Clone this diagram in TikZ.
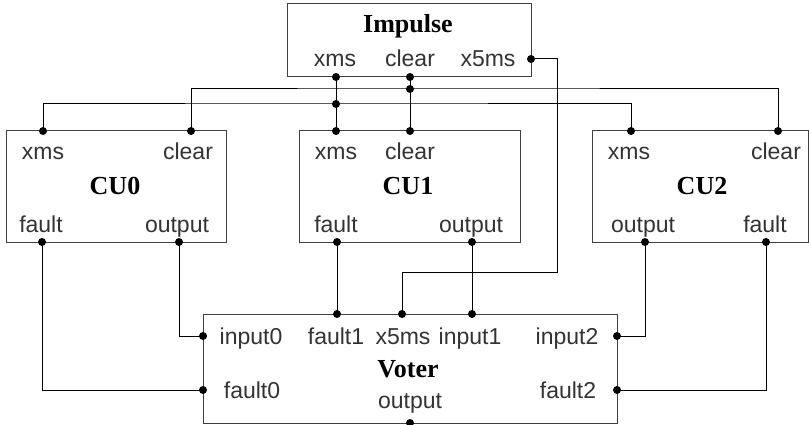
\documentclass[tikz,border=0pt]{standalone}
\usepackage{fontspec}
\setmainfont{Liberation Serif}
\setsansfont{Liberation Sans}
\tikzset{
  blk/.style={draw=black!75, line width=1pt, rectangle, anchor=north west, inner sep=0pt, outer sep=0pt},
  ttl/.style={anchor=base, inner sep=0pt, font=\fontsize{26}{30}\selectfont\bfseries},
  lbl/.style={anchor=base, inner sep=0pt, text=black!80, font=\sffamily\fontsize{23}{27}\selectfont},
  wire/.style={line width=1pt},
}
\begin{document}
\begin{tikzpicture}[x=1pt, y=-1pt]
    \useasboundingbox (0,0) rectangle (809,425);

    % the five blocks
    \node[blk, minimum width=244pt, minimum height=73pt]  (impulse) at (287,4)   {};
    \node[blk, minimum width=220pt, minimum height=111pt] (cu0)     at (6,131)   {};
    \node[blk, minimum width=221pt, minimum height=111pt] (cu1)     at (299,131) {};
    \node[blk, minimum width=216pt, minimum height=111pt] (cu2)     at (592,131) {};
    \node[blk, minimum width=414pt, minimum height=109pt] (voter)   at (203,314) {};

    % titles
    \node[ttl] (impT)   at (408,33)  {Impulse};
    \node[ttl] (cu0T)   at (115,195) {CU0};
    \node[ttl] (cu1T)   at (408,195) {CU1};
    \node[ttl] (cu2T)   at (702,195) {CU2};
    \node[ttl] (voterT) at (408,377) {Voter};

    % port labels
    \node[lbl] (impXmsL)   at (335,67)  {xms};
    \node[lbl] (impClrL)   at (410,67)  {clear};
    \node[lbl] (impX5L)    at (488,67)  {x5ms};
    \node[lbl] (cu0XmsL)   at (43,160)  {xms};
    \node[lbl] (cu0ClrL)   at (188,160) {clear};
    \node[lbl] (cu0FltL)   at (41,232)  {fault};
    \node[lbl] (cu0OutL)   at (177,232) {output};
    \node[lbl] (cu1XmsL)   at (336,160) {xms};
    \node[lbl] (cu1ClrL)   at (410,160) {clear};
    \node[lbl] (cu1FltL)   at (336,232) {fault};
    \node[lbl] (cu1OutL)   at (471,232) {output};
    \node[lbl] (cu2XmsL)   at (629,160) {xms};
    \node[lbl] (cu2ClrL)   at (776,160) {clear};
    \node[lbl] (cu2OutL)   at (643,232) {output};
    \node[lbl] (cu2FltL)   at (765,232) {fault};
    \node[lbl] (vIn0L)     at (251,344) {input0};
    \node[lbl] (vFlt1L)    at (336,344) {fault1};
    \node[lbl] (vX5L)      at (403,344) {x5ms};
    \node[lbl] (vIn1L)     at (470,344) {input1};
    \node[lbl] (vIn2L)     at (567,344) {input2};
    \node[lbl] (vFlt0L)    at (252,398) {fault0};
    \node[lbl] (vFlt2L)    at (568,398) {fault2};
    \node[lbl] (vOutL)     at (410,408) {output};

    % port points
    \coordinate (impXms) at (336,77);
    \coordinate (impClr) at (410,77);
    \coordinate (impX5)  at (531,59);
    \coordinate (cu0Xms) at (43,131);
    \coordinate (cu0Clr) at (191,131);
    \coordinate (cu0Flt) at (42,242);
    \coordinate (cu0Out) at (179,242);
    \coordinate (cu1Xms) at (336,131);
    \coordinate (cu1Clr) at (410,131);
    \coordinate (cu1Flt) at (337,242);
    \coordinate (cu1Out) at (472,242);
    \coordinate (cu2Xms) at (631,131);
    \coordinate (cu2Clr) at (778,131);
    \coordinate (cu2Out) at (645,242);
    \coordinate (cu2Flt) at (766,242);
    \coordinate (vIn0)   at (203,336);
    \coordinate (vFlt0)  at (203,390);
    \coordinate (vFlt1)  at (337,314);
    \coordinate (vX5)    at (402,314);
    \coordinate (vIn1)   at (472,314);
    \coordinate (vIn2)   at (617,336);
    \coordinate (vFlt2)  at (617,390);
    \coordinate (vOut)   at (410,423);

    % junctions on the two buses
    \coordinate (jClr) at (410,89);
    \coordinate (jXms) at (336,104);

    % wires
    \draw[wire] (impXms) -- (cu1Xms);
    \draw[wire] (impClr) -- (cu1Clr);
    \draw[wire] (cu0Clr) |- (jClr) -| (cu2Clr);
    \draw[wire] (cu0Xms) |- (jXms) -| (cu2Xms);
    \draw[wire] (impX5) -| (557,272) -| (vX5);
    \draw[wire] (cu0Flt) |- (vFlt0);
    \draw[wire] (cu0Out) |- (vIn0);
    \draw[wire] (cu1Flt) -- (vFlt1);
    \draw[wire] (cu1Out) -- (vIn1);
    \draw[wire] (cu2Out) |- (vIn2);
    \draw[wire] (cu2Flt) |- (vFlt2);

    % dots
    \foreach \p in {impXms, impClr, impX5, cu0Xms, cu0Clr, cu0Flt, cu0Out,
                    cu1Xms, cu1Clr, cu1Flt, cu1Out, cu2Xms, cu2Clr, cu2Out, cu2Flt,
                    vIn0, vFlt0, vFlt1, vX5, vIn1, vIn2, vFlt2, vOut, jClr, jXms}
        \fill (\p) circle (4pt);
\end{tikzpicture}
\end{document}
